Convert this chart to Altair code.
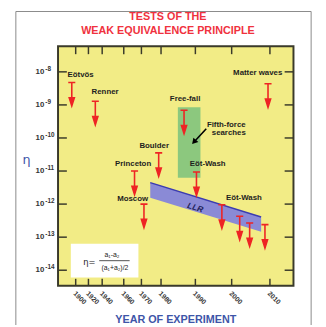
import altair as alt
import pandas as pd

# ---------------- data ----------------
# upper-limit arrows: year and log10(eta) of the cap
arrow_year = [1893.8, 1930.0, 1966.1, 1978.8, 1971.3, 1986.7, 1990.3, 1997.3, 2002.1, 2004.7, 2008.7, 2009.5]
arrow_log = [-8.32, -8.89, -11.0, -10.45, -12.0, -9.16, -11.03, -12.02, -12.37, -12.57, -12.62, -8.36]

# experiment labels
label_text = ["Eötvös", "Renner", "Princeton", "Boulder", "Moscow", "Free-fall",
              "Fifth-force", "searches", "Eöt-Wash", "Eöt-Wash", "Matter waves"]
label_year = [1907.7, 1942.7, 1965.3, 1976.5, 1965.0, 1987.0,
              1998.5, 1999.2, 1993.4, 2003.2, 2006.8]
label_log = [-8.09, -8.62, -10.79, -10.23, -11.86, -8.83,
             -9.60, -9.85, -10.80, -11.81, -8.03]

# fifth-force searches region
ff_year = [1984.9, 1991.4]
ff_log = [-9.07, -11.2]

# LLR band
llr_year = [1974.5, 2007.7]
llr_top = [-11.35, -12.39]
llr_bottom = [-11.81, -12.84]
llr_label_year = [1990.0]
llr_label_log = [-12.1]

# pointer from "Fifth-force searches" label to the region
pointer_year = [1993.0, 1989.6]
pointer_log = [-9.72, -10.12]

# axis ticks
tick_years = [1900, 1920, 1940, 1960, 1970, 1980, 1990, 2000, 2010]
tick_exps = [-8, -9, -10, -11, -12, -13, -14]

# formula box
formula_box_year = [1892.3, 1968.3]
formula_box_log = [-13.2, -14.22]

title_lines = ["TESTS OF THE", "WEAK EQUIVALENCE PRINCIPLE"]
x_title = "YEAR OF EXPERIMENT"
y_title = "η"

# ---------------- styling ----------------
W, H = 240, 244
FONT = "Liberation Sans"
RED = "#ee2424"
TRED = "#f0323e"
BLUE = "#3e55a8"
DARK = "#3a3a2a"
YELLOW = "#f2ec86"

# piecewise (non-uniform) year axis of the original figure
xscale = alt.Scale(domain=[1872, 1900, 1920, 1940, 1960, 1970, 1980, 1990, 2000, 2010, 2016],
                   range=[0, 18, 31, 45, 67, 85, 105, 140, 177, 216, 240], nice=False, zero=False)
yscale = alt.Scale(domain=[-14.468, -7.228], nice=False, zero=False)


def X(f, **kw):
    return alt.X(f, type="quantitative", scale=xscale, axis=None, **kw)


def Y(f, **kw):
    return alt.Y(f, type="quantitative", scale=yscale, axis=None, **kw)


def one(t):
    return pd.DataFrame({"t": [t]})


arrows_df = pd.DataFrame({"year": arrow_year, "log": arrow_log})
labels_df = pd.DataFrame({"text": label_text, "year": label_year, "log": label_log})
ff_df = pd.DataFrame({"x": [ff_year[0]], "x2": [ff_year[1]], "y": [ff_log[0]], "y2": [ff_log[1]]})
llr_df = pd.DataFrame({"year": llr_year, "top": llr_top, "bottom": llr_bottom})
llr_lab_df = pd.DataFrame({"year": llr_label_year, "log": llr_label_log, "t": ["LLR"]})
ptr_df = pd.DataFrame({"x": [pointer_year[0]], "x2": [pointer_year[1]],
                       "y": [pointer_log[0]], "y2": [pointer_log[1]]})
ptr_head_df = pd.DataFrame({"year": [pointer_year[1]], "log": [pointer_log[1]]})
ty_df = pd.DataFrame({"year": tick_years, "lab": [str(y) for y in tick_years]})
te_df = pd.DataFrame({"exp": tick_exps, "base": ["10"] * len(tick_exps),
                      "sup": [str(e) for e in tick_exps]})
fbox_df = pd.DataFrame({"x": [formula_box_year[0]], "x2": [formula_box_year[1]],
                        "y": [formula_box_log[0]], "y2": [formula_box_log[1]]})

# card frame around the figure
card = alt.Chart(one(0)).mark_rect(
    filled=False, stroke="#8a8a8a", strokeWidth=1
).encode(x=alt.value(-43), x2=alt.value(258), y=alt.value(-35.5), y2=alt.value(300))

ff_rect = alt.Chart(ff_df).mark_rect(color="#8cc87e").encode(
    x=X("x"), x2="x2", y=Y("y"), y2="y2")

llr = alt.Chart(llr_df).mark_area(
    color="#8a8ad6", opacity=1, line={"color": "#3c3cb0", "strokeWidth": 1.5}
).encode(x=X("year"), y=Y("top"), y2="bottom")

llr_text = alt.Chart(llr_lab_df).mark_text(
    font=FONT, fontSize=8.5, fontWeight="bold", fontStyle="italic", color="#22225a", angle=17
).encode(x=X("year"), y=Y("log"), text="t")

fbox = alt.Chart(fbox_df).mark_rect(color="white").encode(
    x=X("x"), x2="x2", y=Y("y"), y2="y2")

ARROW = "M-0.3,0L0.3,0M0,0L0,1.4M-0.22,1.3L0.22,1.3L0,2Z"
arrows = alt.Chart(arrows_df).mark_point(
    shape=ARROW, size=576, fill=RED, stroke=RED, strokeWidth=1.6, opacity=1, fillOpacity=1
).encode(x=X("year"), y=Y("log"))

labels = alt.Chart(labels_df).mark_text(
    font=FONT, fontSize=8, fontWeight="bold", color="#1e1e1e"
).encode(x=X("year"), y=Y("log"), text="text")

ptr = alt.Chart(ptr_df).mark_rule(color="black", strokeWidth=1.6).encode(
    x=X("x"), x2="x2", y=Y("y"), y2="y2")
ptr_head = alt.Chart(ptr_head_df).mark_point(
    shape="triangle-down", angle=41, size=45, filled=True, color="black", opacity=1
).encode(x=X("year"), y=Y("log"))

# inward ticks on all four sides
tick_kw = dict(color=DARK, strokeWidth=1.5)
left_ticks = alt.Chart(te_df).mark_rule(**tick_kw).encode(
    y=Y("exp"), x=alt.value(0), x2=alt.value(9))
right_ticks = alt.Chart(te_df).mark_rule(**tick_kw).encode(
    y=Y("exp"), x=alt.value(W - 9), x2=alt.value(W))
top_ticks = alt.Chart(ty_df).mark_rule(**tick_kw).encode(
    x=X("year"), y=alt.value(0), y2=alt.value(8))
bottom_ticks = alt.Chart(ty_df).mark_rule(**tick_kw).encode(
    x=X("year"), y=alt.value(H - 7), y2=alt.value(H))

# tick labels
xlab = alt.Chart(ty_df).mark_text(
    font=FONT, fontSize=7, fontWeight="bold", color="#333333", align="left",
    baseline="middle", angle=45, dx=-2
).encode(x=X("year"), y=alt.value(H + 8.5), text="lab")
ylab_base = alt.Chart(te_df).mark_text(
    font=FONT, fontSize=8, fontWeight="bold", color="#333333", align="right", baseline="middle"
).encode(y=Y("exp"), x=alt.value(-14), text="base")
ylab_sup = alt.Chart(te_df).mark_text(
    font=FONT, fontSize=6.5, fontWeight="bold", color="#333333", align="left", baseline="middle", dy=-3
).encode(y=Y("exp"), x=alt.value(-13), text="sup")

# axis titles
xt = alt.Chart(one(x_title)).mark_text(
    font=FONT, fontSize=11, fontWeight="bold", color=BLUE, align="center", baseline="middle"
).encode(x=alt.value(W / 2), y=alt.value(H + 35), text="t")
yt = alt.Chart(one(y_title)).mark_text(
    font="DejaVu Sans", fontSize=13, color=BLUE, align="center", baseline="middle"
).encode(x=alt.value(-32), y=alt.value(116), text="t")

# formula
f_eta = alt.Chart(one("η=")).mark_text(
    font="DejaVu Sans", fontSize=8.5, color="#222222", align="center", baseline="middle"
).encode(x=alt.value(32), y=alt.value(220), text="t")
f_num = alt.Chart(one("a₁-a₂")).mark_text(
    font=FONT, fontSize=7, color="#222222", align="center", baseline="middle"
).encode(x=alt.value(55), y=alt.value(213), text="t")
f_line = alt.Chart(one(0)).mark_rule(color="#222222", strokeWidth=0.8).encode(
    x=alt.value(42), x2=alt.value(73), y=alt.value(218.5))
f_den = alt.Chart(one("(a₁+a₂)/2")).mark_text(
    font=FONT, fontSize=7, color="#222222", align="center", baseline="middle"
).encode(x=alt.value(58), y=alt.value(226), text="t")

# title lines
t1 = alt.Chart(one(title_lines[0])).mark_text(
    font=FONT, fontSize=11, fontWeight="bold", color=TRED, align="center", baseline="middle"
).encode(x=alt.value(112), y=alt.value(-30), text="t")
t2 = alt.Chart(one(title_lines[1])).mark_text(
    font=FONT, fontSize=11, fontWeight="bold", color=TRED, align="center", baseline="middle"
).encode(x=alt.value(112), y=alt.value(-16), text="t")

chart = alt.layer(
    card, ff_rect, llr, llr_text, fbox, f_line, f_eta, f_num, f_den,
    left_ticks, right_ticks, top_ticks, bottom_ticks, xlab, ylab_base, ylab_sup, xt, yt,
    ptr, ptr_head, arrows, labels, t1, t2
).properties(
    width=W, height=H,
    autosize=alt.AutoSizeParams(type="none"),
    padding={"left": 51, "top": 36, "right": 25, "bottom": 37},
).configure_view(
    fill=YELLOW, stroke=DARK, strokeWidth=2
)

chart.save("out.html", embed_options={"renderer": "svg", "actions": False})
